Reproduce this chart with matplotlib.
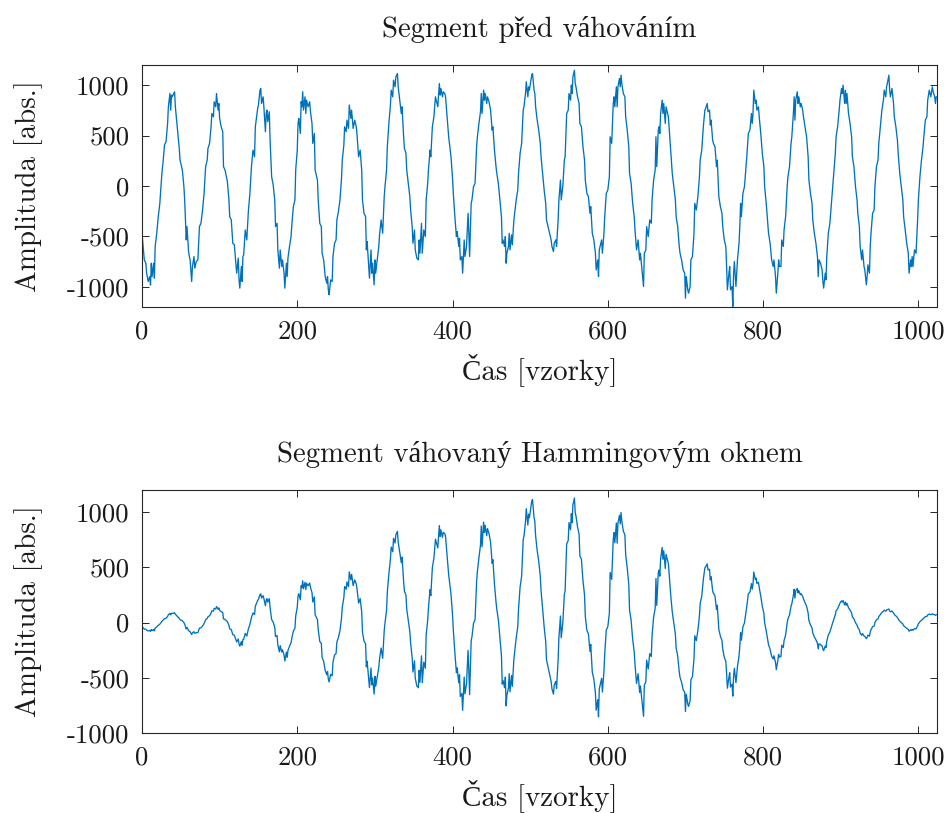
import numpy as np
import matplotlib
matplotlib.use("Agg")
import matplotlib.pyplot as plt

plt.rcParams["font.family"] = ["cmr10", "Liberation Serif"]
plt.rcParams["axes.unicode_minus"] = False

segment_length = 1024

# sample index of each value (one line per stretch of the signal)
samples = (
    [0, 3, 5, 6, 8, 10, 11, 12, 13, 15, 16, 17, 19, 21, 23, 24, 26, 27, 29, 31, 33, 34, 35, 36, 37, 38, 39, 41, 42, 43,
     44, 45, 47, 48, 49, 52, 54, 55, 56, 57, 58, 60, 61, 62, 64, 65, 67, 68, 70, 72, 74, 76, 78, 80, 82, 84, 85, 87, 89, 90]
    + [92, 93, 95, 96, 98, 99, 100, 102, 104, 105, 107, 110, 112, 113, 115, 117, 119, 120, 122, 124, 125, 126, 128, 129,
       130, 131, 133, 135, 137, 139, 141, 143, 145, 146, 149, 150, 152, 153, 154, 156, 157, 159, 160, 161, 162, 164, 165,
       167, 169, 171, 172, 174, 175, 177, 178, 180, 181, 183]
    + [184, 186, 187, 188, 190, 192, 193, 195, 197, 198, 200, 201, 202, 204, 205, 206, 207, 208, 210, 211, 212, 214, 216,
       217, 219, 220, 222, 223, 226, 227, 229, 231, 232, 234, 236, 238, 239, 240, 241, 243, 245, 246, 248, 250, 251, 253,
       255, 257, 258, 260, 261, 263, 264, 266, 267, 269, 270, 272, 274, 276]
    + [277, 279, 281, 283, 284, 286, 288, 289, 290, 292, 293, 295, 296, 297, 299, 300, 301, 303, 305, 306, 308, 310, 312,
       313, 315, 316, 318, 320, 321, 323, 324, 326, 327, 329, 330, 331, 333, 334, 335, 337, 338, 340, 341, 343, 345, 346,
       348, 349, 351, 352, 354, 356, 357, 358, 360, 361, 363, 365, 366, 368]
    + [369, 371, 372, 374, 376, 378, 379, 381, 383, 384, 385, 387, 388, 390, 391, 393, 395, 397, 398, 400, 401, 403, 405,
       406, 408, 409, 410, 412, 413, 415, 416, 418, 420, 421, 422, 424, 425, 427, 429, 431, 432, 434, 436, 437, 438, 440,
       441, 442, 444, 445, 447, 449, 451, 452, 454, 456, 457, 459]
    + [461, 463, 464, 465, 467, 468, 469, 470, 472, 473, 474, 476, 477, 479, 480, 482, 484, 485, 487, 489, 491, 492, 494,
       495, 497, 498, 499, 501, 502, 503, 505, 506, 507, 509, 511, 513, 514, 516, 518, 520, 521, 523, 525, 527, 528, 530,
       531, 533, 534, 536, 537, 539, 540, 542, 544, 545, 547, 549, 550, 552, 553]
    + [554, 555, 557, 558, 559, 561, 563, 564, 566, 568, 570, 571, 573, 575, 577, 578, 580, 582, 584, 585, 587, 588, 589,
       590, 592, 593, 595, 596, 598, 600, 602, 603, 605, 607, 608, 609, 611, 612, 613, 615, 616, 617, 618, 620, 622, 623,
       625, 627, 628, 630, 632, 634, 635, 637, 639, 641, 642, 644, 646, 647]
    + [649, 650, 652, 654, 656, 657, 659, 661, 662, 663, 665, 666, 667, 668, 670, 671, 672, 674, 675, 676, 678, 680, 681,
       683, 685, 687, 688, 690, 692, 693, 695, 697, 699, 700, 701, 703, 704, 706, 707, 709, 711, 712, 714, 716, 718, 719,
       721, 723, 725, 726, 728, 729, 731, 732, 733, 735]
    + [736, 738, 740, 741, 743, 745, 747, 748, 750, 752, 753, 754, 756, 757, 758, 760, 761, 762, 763, 765, 766, 767, 769,
       770, 771, 772, 774, 776, 778, 779, 781, 783, 785, 786, 787, 788, 790, 791, 792, 794, 795, 797, 799, 801, 802, 804,
       806, 807, 809, 811, 813, 814, 816, 817, 819, 820, 821, 823, 824, 826, 827, 829, 831, 832]
    + [834, 836, 837, 839, 840, 841, 842, 844, 845, 846, 848, 849, 851, 852, 854, 856, 858, 859, 861, 863, 864, 866, 868,
       870, 871, 872, 874, 876, 877, 878, 880, 881, 882, 884, 886, 887, 889, 891, 893, 894, 896, 898, 899, 901, 902, 903,
       905, 906, 907, 908, 910, 912, 914, 915, 917, 919, 921, 922, 924]
    + [925, 927, 928, 930, 931, 933, 934, 935, 937, 938, 939, 941, 943, 944, 946, 948, 949, 951, 953, 955, 956, 958, 959,
       960, 962, 963, 964, 966, 968, 969, 971, 973, 974, 976, 978, 980, 981, 983, 985, 987, 988, 990, 991, 992, 993, 995,
       997, 999, 1000, 1002, 1004, 1006, 1007, 1009, 1011, 1012, 1014, 1016, 1018, 1019, 1021, 1022, 1023]
)

# amplitude of the raw segment at those samples
amplitudes = (
    [-469, -733, -766, -865, -947, -898, -983, -766, -898, -766, -914, -600, -469, -304, -172, -56, 158, 224, 406, 439,
     620, 785, 851, 917, 752, 901, 884, 917, 934, 785, 703, 620, 455, 373, 257, 158, -7, -139, -337, -535, -403, -650,
     -700, -733, -947, -799, -700, -815, -749, -733, -403, -370, -238, -73, 191, 257, 373, 422, 587, 719]
    + [686, 835, 785, 917, 752, 818, 670, 587, 538, 191, 158, 43, -139, -304, -337, -568, -584, -683, -865, -716, -931,
       -1013, -799, -947, -700, -683, -436, -535, -254, -73, 191, 356, 290, 587, 769, 802, 950, 967, 818, 884, 785, 538,
       719, 752, 637, 736, 455, 92, 10, -139, -403, -370, -634, -815, -634, -799, -733, -865]
    + [-1013, -766, -898, -716, -600, -502, -386, -205, -139, 158, 356, 620, 670, 521, 835, 785, 934, 752, 884, 719, 851,
       785, 835, 736, 620, 422, 521, 158, 59, -139, -370, -403, -667, -733, -898, -964, -898, -1030, -1079, -931, -947,
       -700, -568, -535, -337, -254, -139, 76, 257, 406, 587, 538, 653, 571, 802, 670, 752, 571, 653, 587]
    + [505, 290, 356, 158, -139, -271, -304, -634, -551, -799, -914, -634, -865, -766, -980, -733, -865, -733, -600, -485,
       -337, -469, -106, -7, 158, 389, 620, 802, 950, 884, 1049, 983, 1082, 1115, 983, 917, 785, 719, 785, 488, 373, 323,
       158, 26, -106, -238, -403, -568, -436, -634, -716, -733, -535, -667, -370, -667, -436, -502, -139, 26]
    + [158, 356, 290, 587, 686, 884, 851, 785, 1016, 901, 967, 884, 934, 917, 884, 686, 488, 356, 290, 76, -73, -304,
       -502, -452, -600, -518, -733, -700, -865, -535, -700, -600, -271, -469, -700, -172, -139, -7, 26, 389, 488, 620,
       736, 917, 719, 950, 851, 917, 818, 884, 835, 752, 554, 587, 356, 191, 125, 26]
    + [-139, -304, -568, -535, -600, -502, -766, -667, -600, -469, -634, -485, -584, -337, -271, -139, -40, 125, 323, 422,
       752, 785, 917, 1033, 884, 983, 950, 1049, 1099, 1115, 950, 917, 785, 653, 554, 422, 290, 125, -40, -172, -337,
       -403, -469, -535, -600, -650, -568, -535, -600, -337, -139, 59, -139, -7, 257, 290, 719, 752, 917, 851, 1000]
    + [917, 1082, 1148, 1016, 983, 884, 818, 620, 587, 389, 257, 59, -73, -106, -271, -205, -469, -535, -667, -832, -733,
       -898, -634, -600, -535, -667, -469, -304, -73, -40, 92, 488, 422, 818, 884, 785, 983, 785, 983, 1066, 983, 1099,
       1016, 917, 884, 686, 554, 389, 125, 26, -172, -304, -436, -634, -535, -733, -667, -832, -997, -667]
    + [-634, -403, -502, -337, -370, -139, 59, 158, 488, 191, 554, 587, 521, 719, 851, 719, 818, 620, 785, 752, 686, 455,
       323, 125, -7, -139, -304, -403, -600, -667, -733, -832, -865, -1112, -898, -1030, -1063, -997, -733, -700, -469,
       -172, -238, -106, 92, 257, 356, 587, 752, 769, 818, 736, 752, 604, 653, 455]
    + [422, 389, 191, 257, -106, -205, -271, -403, -535, -600, -799, -1030, -865, -799, -1030, -997, -1195, -865, -749,
       -997, -865, -733, -568, -403, -172, -304, -73, -7, 191, 290, 521, 554, 719, 620, 719, 950, 818, 851, 752, 785, 686,
       521, 323, 191, -7, -172, -370, -469, -568, -733, -799, -733, -898, -1063, -865, -733, -799, -799, -535, -600,
       -436, -304, -7, 92]
    + [191, 422, 488, 719, 884, 653, 851, 934, 818, 884, 785, 818, 752, 686, 587, 488, 290, 59, -73, -172, -337, -469,
       -568, -700, -898, -733, -766, -832, -947, -1013, -865, -931, -700, -469, -370, -271, -73, 125, 323, 488, 587, 752,
       851, 967, 917, 1000, 818, 950, 818, 917, 719, 620, 488, 290, 191, -7, -139, -271, -403]
    + [-600, -733, -634, -799, -832, -980, -898, -782, -865, -600, -469, -271, -238, -7, 191, 257, 422, 587, 752, 851, 950,
       884, 983, 1016, 1099, 950, 884, 967, 818, 686, 587, 455, 323, 125, -7, -139, -304, -436, -568, -667, -865, -733,
       -799, -700, -799, -634, -667, -337, -139, 92, 257, 389, 488, 653, 686, 851, 950, 884, 983, 934, 884, 818, 884]
)

x_ticks = [0, 200, 400, 600, 800, 1000]
y_ticks = [-1000, -500, 0, 500, 1000]
titles = ["Segment před váhováním", "Segment váhovaný Hammingovým oknem"]
x_label = "Čas [vzorky]"
y_label = "Amplituda [abs.]"

samples = np.array(samples)
amplitudes = np.array(amplitudes, dtype=float)
# second panel: the same segment multiplied by a Hamming window
weighted = amplitudes * np.hamming(segment_length)[samples]

fig = plt.figure(figsize=(9.44, 8.13), dpi=100)
ax_top = fig.add_axes([0.1504, 0.6224, 0.8422, 0.2977])
ax_bottom = fig.add_axes([0.1504, 0.0984, 0.8422, 0.2989])

panels = [
    (ax_top, amplitudes, titles[0], (-1200, 1200)),
    (ax_bottom, weighted, titles[1], (-1000, 1200)),
]
for ax, values, title, ylim in panels:
    ax.plot(samples, values, color="#0072BD", linewidth=0.95)
    ax.set_xlim(0, segment_length)
    ax.set_ylim(*ylim)
    ax.set_xticks(x_ticks)
    ax.set_yticks(y_ticks)
    ax.tick_params(direction="in", top=True, right=True, length=5, width=0.7,
                   color="0.15", labelcolor="0.1", labelsize=19.3, pad=9)
    for spine in ax.spines.values():
        spine.set_color("0.15")
        spine.set_linewidth(0.8)
    ax.set_title(title, fontsize=20.7, pad=20, color="0.1")
    ax.set_xlabel(x_label, fontsize=20.9, labelpad=7, color="0.1")
    ax.set_ylabel(y_label, fontsize=20.9, color="0.1")
    ax.yaxis.set_label_coords(-0.124, 0.5)

fig.savefig("out.png", dpi=100)
